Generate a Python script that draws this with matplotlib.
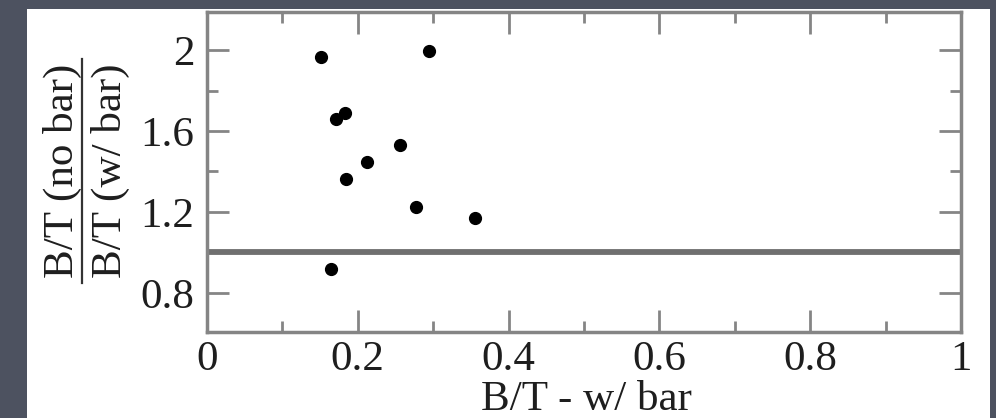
import matplotlib
matplotlib.use('Agg')
import matplotlib.pyplot as plt
from matplotlib.patches import Rectangle
from matplotlib.lines import Line2D
from matplotlib.ticker import MultipleLocator

plt.rcParams['font.family'] = ['Liberation Serif', 'DejaVu Serif']

# data
bt_with_bar = [0.151, 0.295, 0.171, 0.183, 0.256, 0.212, 0.185, 0.277, 0.355, 0.165]
bt_ratio = [1.967, 1.997, 1.659, 1.687, 1.531, 1.448, 1.363, 1.226, 1.169, 0.917]
ref_level = 1.0

W, H = 996, 418
fig = plt.figure(figsize=(W / 100, H / 100), dpi=100)
fig.patch.set_facecolor('#4d5260')

# white slide panel
fig.add_artist(Rectangle((27 / W, 0), (990 - 27) / W, 1 - 9 / H,
                         transform=fig.transFigure, facecolor='white',
                         edgecolor='none', zorder=0))

ax = fig.add_axes([207 / W, 1 - 332 / H, (961 - 207) / W, (332 - 12) / H])
ax.set_facecolor('white')

ax.axhline(ref_level, color='#707070', lw=4.2, zorder=2)
ax.plot(bt_with_bar, bt_ratio, 'o', color='black', ms=8.5, zorder=3)

ax.set_xlim(0, 1)
ax.set_ylim(0.607, 2.188)
ax.xaxis.set_minor_locator(MultipleLocator(0.1))
ax.yaxis.set_minor_locator(MultipleLocator(0.2))
ax.set_xticks([0, 0.2, 0.4, 0.6, 0.8, 1])
ax.set_xticklabels(['0', '0.2', '0.4', '0.6', '0.8', '1'])
ax.set_yticks([0.8, 1.2, 1.6, 2.0])
ax.set_yticklabels(['0.8', '1.2', '1.6', '2'])

grey = '#858585'
for s in ax.spines.values():
    s.set_color(grey)
    s.set_linewidth(2.5)
ax.tick_params(which='both', direction='in', top=True, right=True,
               color=grey, width=2, labelsize=31, labelcolor='#1e1e1e')
ax.tick_params(which='major', length=16)
ax.tick_params(which='minor', length=8)
ax.tick_params(axis='x', pad=6)
ax.tick_params(axis='y', pad=9)

# x label
fig.text(586 / W, 1 - 410 / H, 'B/T - w/ bar', ha='center', va='baseline',
         fontsize=31, color='#1e1e1e')

# y label as a fraction
cy = 1 - 171 / H
fig.text(62 / W, cy, 'B/T (no bar)', rotation=90, ha='center', va='center',
         fontsize=31, color='#1e1e1e')
fig.text(110 / W, cy, 'B/T (w/ bar)', rotation=90, ha='center', va='center',
         fontsize=31, color='#1e1e1e')
fig.add_artist(Line2D([81.5 / W, 81.5 / W], [1 - 283 / H, 1 - 59 / H],
                      transform=fig.transFigure, color='#333333', lw=1.6))

fig.savefig('out.png', dpi=100, facecolor=fig.get_facecolor())
